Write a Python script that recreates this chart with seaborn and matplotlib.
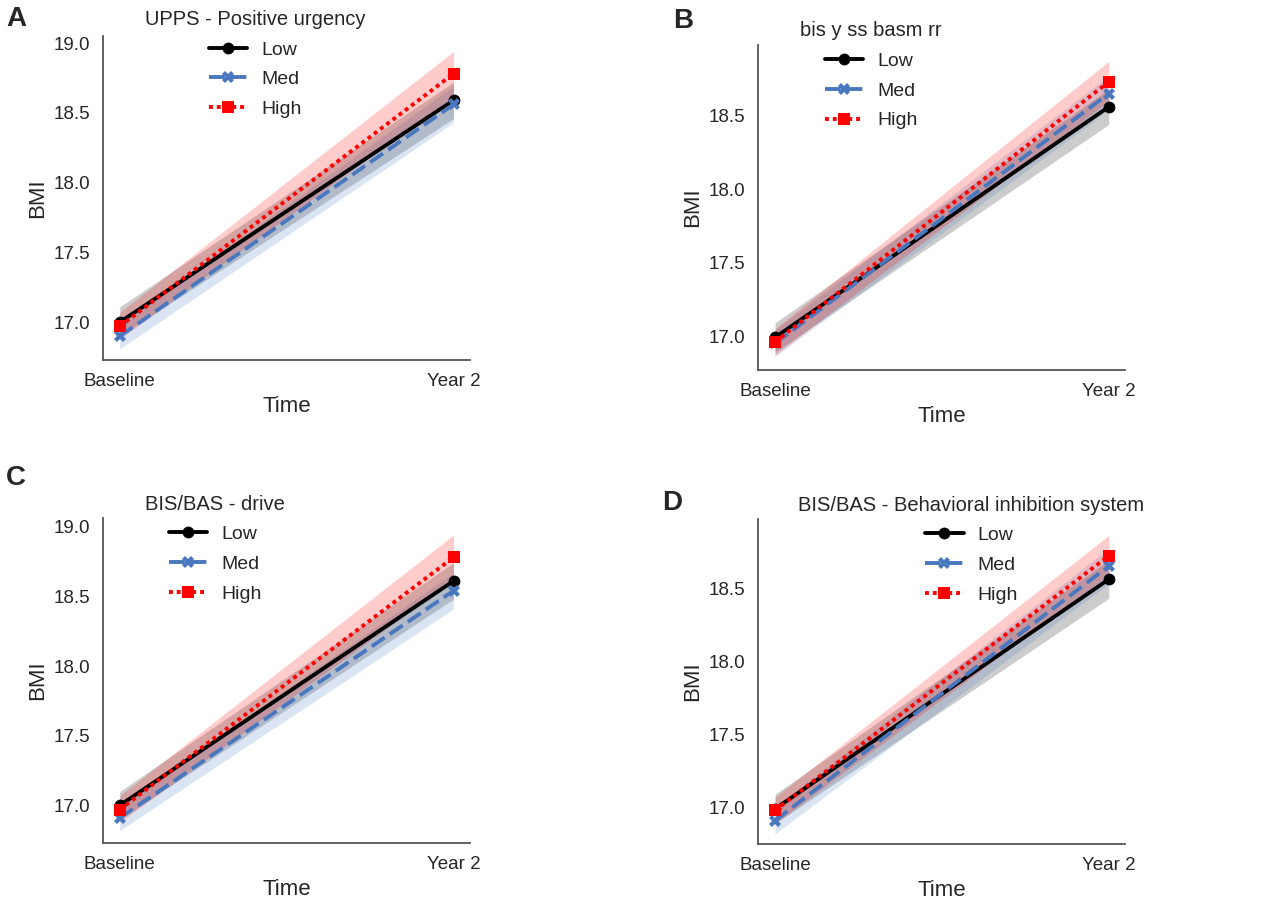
import pandas as pd
import matplotlib
matplotlib.use("Agg")
import matplotlib.pyplot as plt
import seaborn as sns
import numpy as np

# Time points and groups
times = ["Baseline", "Year 2"]
groups = ["Low", "Med", "High"]

# Panel A - UPPS Positive urgency (mean, lower, upper) per group: [baseline, year2]
a_mean = {"Low": [17.00, 18.59], "Med": [16.90, 18.56], "High": [16.97, 18.78]}
a_lo = {"Low": [16.90, 18.46], "Med": [16.81, 18.43], "High": [16.88, 18.62]}
a_hi = {"Low": [17.11, 18.72], "Med": [16.99, 18.69], "High": [17.07, 18.94]}

# Panel B - bis y ss basm rr
b_mean = {"Low": [16.99, 18.56], "Med": [16.95, 18.65], "High": [16.96, 18.73]}
b_lo = {"Low": [16.89, 18.44], "Med": [16.86, 18.54], "High": [16.87, 18.60]}
b_hi = {"Low": [17.09, 18.68], "Med": [17.04, 18.77], "High": [17.05, 18.87]}

# Panel C - BIS/BAS drive
c_mean = {"Low": [17.00, 18.61], "Med": [16.91, 18.54], "High": [16.97, 18.78]}
c_lo = {"Low": [16.90, 18.48], "Med": [16.82, 18.41], "High": [16.88, 18.62]}
c_hi = {"Low": [17.10, 18.74], "Med": [17.00, 18.67], "High": [17.07, 18.94]}

# Panel D - BIS/BAS Behavioral inhibition system
d_mean = {"Low": [16.99, 18.56], "Med": [16.91, 18.65], "High": [16.98, 18.72]}
d_lo = {"Low": [16.89, 18.43], "Med": [16.82, 18.53], "High": [16.89, 18.59]}
d_hi = {"Low": [17.09, 18.69], "Med": [17.00, 18.77], "High": [17.07, 18.86]}

titles = ["UPPS - Positive urgency", "bis y ss basm rr",
          "BIS/BAS - drive", "BIS/BAS - Behavioral inhibition system"]
letters = ["A", "B", "C", "D"]

palette = {"Low": "black", "Med": "#4A78BE", "High": "#FF0000"}
markers = {"Low": "o", "Med": "X", "High": "s"}
dashes = {"Low": "", "Med": (4, 1.6), "High": (1, 1)}


def long_frame(mean, lo, hi):
    # three rows per point so the band can be drawn from min/max
    rows = []
    for g in groups:
        for i, t in enumerate(times):
            for v in (lo[g][i], mean[g][i], hi[g][i]):
                rows.append({"Time": t, "BMI": v, "group": g})
    return pd.DataFrame(rows)


panels = [
    (a_mean, a_lo, a_hi),
    (b_mean, b_lo, b_hi),
    (c_mean, c_lo, c_hi),
    (d_mean, d_lo, d_hi),
]

sns.set_theme(style="white")
plt.rcParams["font.family"] = ["Liberation Sans", "DejaVu Sans"]

fig = plt.figure(figsize=(12.66, 9.02), dpi=100)

# axes positions [left, bottom, width, height]
positions = [
    [0.0814, 0.601, 0.290, 0.359],
    [0.599, 0.590, 0.290, 0.360],
    [0.0814, 0.0654, 0.290, 0.360],
    [0.599, 0.0643, 0.290, 0.360],
]
ylims = [(16.73, 19.05), (16.77, 18.98), (16.73, 19.06), (16.75, 18.97)]
leg_x = [0.414, 0.307, 0.305, 0.58]
leg_y = [1.135, 1.127, 1.127, 1.127]
letter_pos = [(0.005, 0.979), (0.532, 0.977), (0.005, 0.47), (0.523, 0.442)]

for k, (mean, lo, hi) in enumerate(panels):
    ax = fig.add_axes(positions[k])
    df = long_frame(mean, lo, hi)
    sns.lineplot(
        data=df, x="Time", y="BMI", hue="group", style="group",
        hue_order=groups, style_order=groups,
        palette=palette, markers=markers, dashes=dashes,
        estimator="median", errorbar=lambda v: (v.min(), v.max()),
        linewidth=2.8, markersize=8.5, markeredgewidth=0,
        err_kws={"alpha": 0.2, "linewidth": 0},
        ax=ax,
    )
    ax.set_ylim(*ylims[k])
    ax.set_yticks([t for t in [17.0, 17.5, 18.0, 18.5, 19.0] if t <= ylims[k][1]])
    ax.set_xlabel("Time", fontsize=16)
    ax.set_ylabel("BMI", fontsize=16)
    ax.tick_params(labelsize=13.5)
    sns.despine(ax=ax)
    for side in ["left", "bottom"]:
        ax.spines[side].set_color("#555555")
        ax.spines[side].set_linewidth(1.3)
    sns.move_legend(
        ax, "upper center", bbox_to_anchor=(leg_x[k], leg_y[k]),
        title=titles[k], frameon=False, fontsize=14, title_fontsize=14.5,
        labelspacing=0.62, handlelength=2.0, handletextpad=0.7,
    )
    fig.text(letter_pos[k][0], letter_pos[k][1], letters[k],
             fontsize=20, fontweight="bold", va="center", ha="left")

fig.savefig("out.png", dpi=100)
